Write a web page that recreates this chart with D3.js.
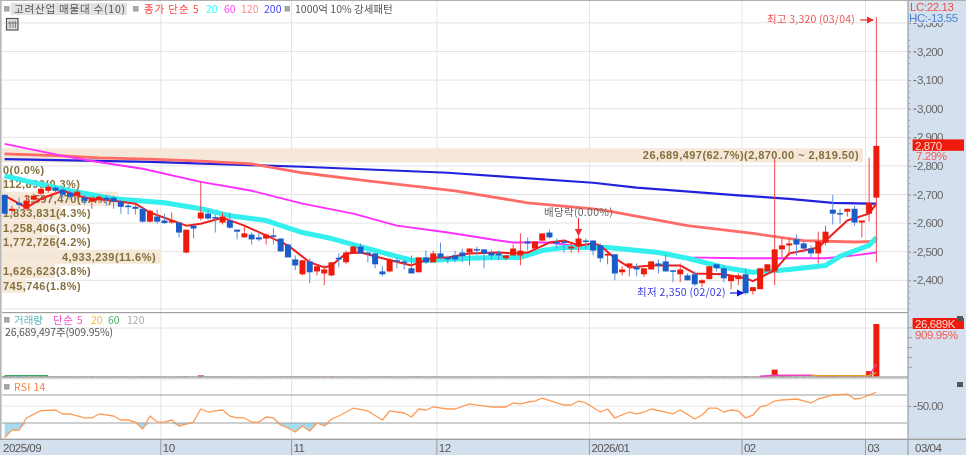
<!DOCTYPE html>
<html>
<head>
<meta charset="utf-8">
<script src="https://cdn.jsdelivr.net/npm/d3@7"></script>
<style>
  html, body { margin: 0; padding: 0; background: #fff; overflow: hidden; }
  svg { display: block; filter: blur(0.3px); }
  text { font-family: "Liberation Sans", sans-serif; }
  .ko { font-family: "Noto Sans CJK KR", sans-serif; }
</style>
</head>
<body>
<svg id="chart" width="966" height="455"></svg>
<script>
// daily candles, 2025/09/01 - 2026/03/04
const opens = [2699,2643,2671,2650,2682,2703,2713,2724,2717,2706,2696,2689,2675,2682,2689,2689,2675,2661,2657,2650,2605,2623,2609,2602,2602,2497,2591,2616,2633,2621,2602,2609,2577,2550,2560,2550,2546,2557,2546,2525,2473,2421,2466,2431,2424,2417,2479,2463,2497,2518,2497,2494,2431,2431,2470,2466,2442,2428,2480,2463,2494,2480,2487,2497,2497,2509,2508,2497,2494,2477,2487,2487,2536,2511,2539,2567,2534,2536,2511,2518,2539,2539,2522,2487,2491,2428,2449,2445,2421,2438,2459,2466,2435,2421,2417,2421,2390,2404,2456,2442,2397,2404,2421,2362,2369,2431,2431,2508,2522,2543,2529,2511,2494,2532,2647,2635,2640,2650,2602,2633,2689];
const highs = [2699,2661,2689,2696,2703,2724,2734,2730,2724,2713,2717,2699,2692,2699,2699,2696,2682,2671,2664,2654,2647,2647,2633,2637,2602,2577,2591,2744,2647,2630,2637,2637,2577,2588,2567,2567,2564,2581,2546,2525,2487,2470,2477,2449,2452,2463,2494,2504,2522,2529,2501,2494,2449,2477,2480,2473,2487,2480,2504,2504,2532,2487,2504,2511,2511,2518,2508,2508,2504,2487,2525,2564,2550,2536,2564,2577,2546,2539,2529,2557,2546,2539,2529,2495,2491,2449,2459,2459,2442,2466,2473,2491,2435,2459,2424,2431,2404,2449,2456,2452,2417,2424,2442,2376,2442,2456,2824,2546,2546,2560,2539,2522,2570,2591,2699,2650,2650,2661,2609,2828,3320];
const lows = [2630,2633,2650,2647,2675,2696,2706,2699,2689,2682,2685,2664,2650,2671,2661,2650,2633,2630,2630,2602,2602,2598,2598,2598,2550,2494,2546,2609,2612,2567,2595,2581,2543,2550,2525,2536,2525,2525,2501,2480,2435,2417,2390,2417,2383,2414,2445,2456,2494,2494,2463,2442,2414,2428,2442,2438,2424,2428,2456,2463,2473,2459,2463,2463,2452,2487,2442,2473,2470,2470,2487,2452,2504,2504,2536,2546,2511,2497,2497,2497,2511,2487,2463,2456,2400,2417,2414,2414,2411,2438,2424,2431,2393,2393,2400,2379,2376,2404,2431,2393,2369,2383,2350,2350,2369,2431,2383,2480,2484,2487,2497,2480,2459,2522,2595,2598,2623,2591,2550,2605,2463];
const closes = [2633,2650,2664,2678,2696,2720,2727,2713,2699,2692,2710,2678,2685,2692,2682,2675,2657,2657,2650,2605,2643,2605,2600,2609,2567,2577,2581,2637,2616,2616,2623,2584,2570,2564,2543,2543,2560,2553,2501,2480,2452,2470,2428,2449,2438,2463,2473,2497,2518,2494,2494,2456,2421,2473,2466,2463,2424,2480,2463,2494,2480,2473,2473,2484,2511,2504,2494,2487,2487,2487,2511,2504,2529,2536,2564,2550,2529,2532,2518,2546,2536,2504,2477,2492,2424,2438,2459,2438,2442,2466,2452,2431,2430,2438,2400,2386,2400,2449,2442,2407,2417,2417,2355,2376,2442,2456,2508,2522,2529,2525,2511,2494,2536,2570,2633,2630,2650,2602,2609,2671,2870];

// moving averages, read at the turning points of each line
const ma5Idx = [0,3,5,8,11,15,18,20,25,27,30,33,36,39,42,44,45,47,49,52,56,59,61,64,68,70,72,75,77,79,81,82,84,86,89,93,95,99,102,103,106,108,112,116,119,120];
const ma5 = [2696,2654,2685,2713,2689,2678,2668,2637,2591,2598,2619,2591,2557,2522,2463,2445,2452,2494,2497,2477,2452,2480,2480,2494,2497,2494,2497,2532,2539,2522,2529,2522,2477,2445,2452,2452,2424,2421,2407,2397,2435,2494,2515,2609,2633,2668];
const ma20Idx = [0,4,9,15,22,27,31,36,41,45,50,56,59,64,68,71,74,77,81,83,90,94,99,103,108,113,115,119,120];
const ma20 = [2765,2741,2713,2685,2671,2650,2626,2609,2567,2546,2511,2470,2470,2477,2480,2480,2504,2515,2515,2515,2497,2477,2445,2428,2438,2452,2484,2522,2550];
const ma60Idx = [0,8,12,19,27,34,41,48,54,61,68,70,75,80,83,90,94,101,108,113,117,120];
const ma60 = [2877,2835,2817,2790,2744,2713,2668,2633,2591,2567,2539,2532,2532,2515,2515,2494,2480,2477,2477,2477,2487,2497];
const ma120Idx = [0,8,13,20,27,34,41,50,62,72,81,83,94,103,110,117,120];
const ma120 = [2842,2835,2828,2824,2817,2807,2776,2748,2713,2671,2650,2643,2591,2564,2539,2534,2536];
const ma200Idx = [0,20,41,61,81,87,101,108,114,119,120];
const ma200 = [2824,2814,2797,2776,2741,2724,2697,2685,2671,2668,2668];

// volume in thousand shares
const volumes = [260,150,140,130,140,150,180,160,140,130,120,130,140,120,110,120,130,110,100,160,170,130,110,120,150,200,130,620,180,120,150,140,110,120,130,100,110,100,180,190,160,190,170,130,140,170,110,130,120,110,100,140,110,150,90,90,130,150,100,120,110,90,90,100,100,80,90,90,80,80,100,120,90,100,110,90,80,80,80,110,80,110,130,90,160,90,80,80,90,110,80,110,90,90,100,120,90,140,90,120,100,90,190,120,200,180,3525,300,220,180,140,130,230,260,420,180,160,280,150,2770,26689];
const volMa5Idx = [104,106,111,112,119,120];
const volMa5 = [150,700,700,480,480,6300];
const volMa20Idx = [111,119,120];
const volMa20 = [480,480,2000];
const volMa60Idx = [0,6];
const volMa60 = [480,480];

const rsiIdx = [0,1,2,3,5,7,8,9,11,12,13,15,16,17,18,19,20,21,22,23,24,26,27,28,29,30,31,32,33,34,35,36,37,38,39,40,41,42,43,44,45,46,48,50,52,53,55,56,57,58,59,61,62,64,65,67,69,70,71,72,73,74,76,77,78,79,80,82,83,84,86,87,88,89,91,92,93,95,96,97,98,99,100,101,102,103,104,105,106,107,109,111,112,114,116,117,118,120];
const rsi = [5,15.7,15.7,32.9,43.3,44.3,38.6,38.6,32.9,32.9,38.6,35.7,30,30,27.1,17.1,35.7,27.1,27.1,30,21.4,27.1,45.7,41.4,42.9,44.3,35.7,32.9,32.9,27.1,27.1,34.3,32.9,22.9,18.6,12.9,21.4,14.3,25.7,21.4,31.4,35.7,47.1,42.9,30,42.9,40,34.3,45.7,44.3,48.6,45.7,45.7,52.9,51.4,48.6,48.6,54.3,52.9,55.7,57.1,61.4,54.3,51.4,51.4,57.1,54.3,41.4,45.7,32.9,41.4,38.6,41.4,45.7,41.4,38.6,44.3,31.4,37.1,47.1,47.1,41.4,44.3,42.9,32.9,37.1,48.6,51.4,57.1,58.6,60,54.3,60,65.7,67.1,60,61.4,70];

const rsiUpper = 65.7;
const rsiLower = 25.7;

const priceTicks = [3300,3200,3100,3000,2900,2800,2700,2600,2500,2400,2300];
const priceMinor = d3.range(2300, 3340, 20);
const volumeMinor = [5000,10000,15000,20000,25000];

const monthIdx = [0,22,40,60,81,102,119];
const monthLabels = ["2025/09","10","11","12","2026/01","02","03"];

const profileVols = [26689497,0,112890,3597470,1833831,1258406,1772726,4933239,1626623,745746];
const profilePct = ["62.7","0.0","0.3","8.4","4.3","3.0","4.2","11.6","3.8","1.8"];

const legendTop = [
  { t: "종가 단순 5", x: 144, c: "#f44", ls: 0.9 },
  { t: "20", x: 206, c: "#3ff", ls: 0 },
  { t: "60", x: 224, c: "#f4f", ls: 0 },
  { t: "120", x: 241, c: "#ff8a8a", ls: 0 },
  { t: "200", x: 264, c: "#44f", ls: 0 },
  { t: "1000억 10% 강세패턴", x: 295, c: "#555", ls: 0 },
];
const legendVol = [
  { t: "거래량", x: 14, c: "#5ab8bd", ls: 0 },
  { t: "단순 5", x: 53, c: "#f050c8", ls: 0.7 },
  { t: "20", x: 91, c: "#ffb63c", ls: 0 },
  { t: "60", x: 108, c: "#4cb070", ls: 0 },
  { t: "120", x: 127, c: "#aaa", ls: 0 },
];

const RED = "#ee1b0c";
const BLUE = "#1a5cc8";
const GRID = "#e4e4e4";
const PANEL = "#d5e0ee";
const FRAME = "#a0a0a0";
const plotRight = 908;

const svg = d3.select("#chart");

// scales
const x = d3.scaleBand().domain(d3.range(opens.length)).range([1, 880]).padding(0);
const cx = (i) => x(i) + x.bandwidth() / 2;
const yPrice = d3.scaleLinear().domain([2400, 3200]).range([280.3, 51.5]);
const yVol = d3.scaleLinear().domain([0, 26689]).range([376.6, 324]);
const yRsi = d3.scaleLinear().domain([50, 70]).range([406, 392]);
const xProfile = d3.scaleLinear().domain([0, 26689497]).range([2, 863]);
const yProfile = d3.scaleBand().domain(d3.range(profileVols.length)).range([148, 293]).padding(0.02);

// right panel and bottom strip
svg.append("rect").attr("x", plotRight).attr("y", 0).attr("width", 58).attr("height", 455).attr("fill", PANEL);
svg.append("rect").attr("x", 0).attr("y", 440).attr("width", 966).attr("height", 15).attr("fill", PANEL);

// grid
svg.append("g").selectAll("line").data(priceTicks).enter().append("line")
  .attr("x1", 2).attr("x2", plotRight)
  .attr("y1", (d) => yPrice(d)).attr("y2", (d) => yPrice(d))
  .attr("stroke", GRID);
svg.append("g").selectAll("line").data(monthIdx.slice(1)).enter().append("line")
  .attr("x1", (d) => x(d)).attr("x2", (d) => x(d))
  .attr("y1", 0).attr("y2", 439)
  .attr("stroke", GRID);

// volume profile rows
const rows = svg.append("g");
rows.selectAll("rect").data(profileVols).enter().append("rect")
  .attr("x", xProfile(0))
  .attr("y", (d, i) => yProfile(i))
  .attr("width", (d) => xProfile(d) - xProfile(0))
  .attr("height", yProfile.bandwidth())
  .attr("fill", "#f6e8d8");
rows.selectAll("text").data(profileVols).enter().append("text")
  .attr("x", (d, i) => {
    if (i == 0) return 859;
    if (i == 3) return 112;
    if (i == 7) return 156;
    return 3;
  })
  .attr("text-anchor", (d, i) => (i == 0 || i == 3 || i == 7 ? "end" : "start"))
  .attr("y", (d, i) => yProfile(i) + yProfile.bandwidth() / 2 + 4)
  .attr("fill", "#85703f")
  .attr("font-size", 11)
  .attr("font-weight", "bold")
  .attr("letter-spacing", 0.45)
  .text((d, i) => {
    let s = `${d3.format(",")(d)}(${profilePct[i]}%)`;
    if (i == 0) s += "(2,870.00 ~ 2,819.50)";
    return s;
  });

// moving averages
function drawLine(idx, vals, scale, color, width) {
  const line = d3.line().x((d) => cx(d)).y((d, i) => scale(vals[i]));
  svg.append("path").attr("d", line(idx)).attr("fill", "none")
    .attr("stroke", color).attr("stroke-width", width).attr("stroke-linejoin", "round");
}
drawLine(ma200Idx, ma200, yPrice, "#2222dd", 2.2);
drawLine(ma120Idx, ma120, yPrice, "#ff6b66", 2.8);
drawLine(ma60Idx, ma60, yPrice, "#ff2eff", 1.9);
drawLine(ma20Idx, ma20, yPrice, "#33f0ee", 5);
drawLine(ma5Idx, ma5, yPrice, "#ee1f1f", 2);

// candles
const candles = svg.append("g");
opens.forEach((o, i) => {
  const up = closes[i] >= o;
  candles.append("line")
    .attr("x1", cx(i)).attr("x2", cx(i))
    .attr("y1", yPrice(highs[i])).attr("y2", yPrice(lows[i]))
    .attr("stroke", up ? "#f04848" : "#5a90e0");
  const top = yPrice(Math.max(o, closes[i]));
  const bottom = yPrice(Math.min(o, closes[i]));
  candles.append("rect")
    .attr("x", cx(i) - 3).attr("y", top)
    .attr("width", 6).attr("height", Math.max(bottom - top, 1.5))
    .attr("fill", up ? RED : BLUE);
});

// notes on the price pane
svg.append("defs").selectAll("marker").data([["arrowR", "#f03030"], ["arrowB", "#1414e0"]]).enter()
  .append("marker")
  .attr("id", (d) => d[0])
  .attr("markerWidth", 6).attr("markerHeight", 6).attr("refX", 5).attr("refY", 3).attr("orient", "auto")
  .append("path").attr("d", "M0,0L6,3L0,6Z").attr("fill", (d) => d[1]);

function note(str, px, py, color, ls) {
  svg.append("text").attr("class", "ko").attr("x", px).attr("y", py)
    .attr("font-size", 10.5).attr("fill", color).attr("letter-spacing", ls).text(str);
}
note("최고 3,320 (03/04)", 767, 23, "#ee5555", 0.2);
svg.append("line").attr("x1", 860).attr("x2", 873).attr("y1", 20).attr("y2", 20)
  .attr("stroke", "#f03030").attr("stroke-width", 1.2).attr("marker-end", "url(#arrowR)");
note("최저 2,350 (02/02)", 637, 296, "#3a3ae0", 0.25);
svg.append("line").attr("x1", 730).attr("x2", 743).attr("y1", 293).attr("y2", 293)
  .attr("stroke", "#1414e0").attr("stroke-width", 1.2).attr("marker-end", "url(#arrowB)");
note("배당락(0.00%)", 544, 216, "#666", 0.3);
svg.append("line").attr("x1", 578.5).attr("x2", 578.5).attr("y1", 218).attr("y2", 235)
  .attr("stroke", "#f03030").attr("stroke-width", 1.2).attr("marker-end", "url(#arrowR)");

// volume pane
svg.append("line").attr("x1", 2).attr("x2", plotRight).attr("y1", 328).attr("y2", 328).attr("stroke", GRID);
svg.append("rect").attr("x", 2).attr("y", 312).attr("width", plotRight - 2).attr("height", 1.2).attr("fill", FRAME);
svg.append("g").selectAll("rect").data(volumes).enter().append("rect")
  .attr("x", (d, i) => cx(i) - 3)
  .attr("y", (d) => yVol(d))
  .attr("width", 6)
  .attr("height", (d) => yVol(0) - yVol(d))
  .attr("fill", (d, i) => (closes[i] >= opens[i] ? (d > 1000 ? RED : "#c22") : BLUE));
svg.append("rect").attr("x", 2).attr("y", 376.4).attr("width", plotRight - 2).attr("height", 1.4).attr("fill", "#9a9a9a");
svg.append("rect").attr("x", 2).attr("y", 377.8).attr("width", plotRight - 2).attr("height", 1.6).attr("fill", "#dcdcdc");
drawLine(volMa60Idx, volMa60, yVol, "#3aa860", 1.2);
drawLine(volMa5Idx, volMa5, yVol, "#f040b8", 1.4);
drawLine(volMa20Idx, volMa20, yVol, "#e8a020", 1.4);

// rsi pane
svg.append("line").attr("x1", 2).attr("x2", plotRight).attr("y1", yRsi(50)).attr("y2", yRsi(50)).attr("stroke", GRID);
const rsiFill = d3.area()
  .x((d) => cx(d))
  .y0(yRsi(rsiLower))
  .y1((d, i) => yRsi(Math.min(rsi[i], rsiLower)));
svg.append("path").attr("d", rsiFill(rsiIdx)).attr("fill", "#a6dcf0");
[rsiUpper, rsiLower].forEach((v) => {
  svg.append("line").attr("x1", 2).attr("x2", 907).attr("y1", yRsi(v)).attr("y2", yRsi(v))
    .attr("stroke", "#a0a0a0").attr("stroke-width", 1.1);
});
drawLine(rsiIdx, rsi, yRsi, "#ff9a55", 1.3);

// frames
svg.append("rect").attr("x", 0).attr("y", 0).attr("width", 966).attr("height", 1).attr("fill", "#b0b0b0");
svg.append("rect").attr("x", 0).attr("y", 0).attr("width", 1.6).attr("height", 440).attr("fill", "#b8b8b8");
svg.append("rect").attr("x", 0).attr("y", 438.6).attr("width", 966).attr("height", 1.4).attr("fill", FRAME);
svg.append("rect").attr("x", plotRight - 0.6).attr("y", 0).attr("width", 1.2).attr("height", 455).attr("fill", FRAME);

// price axis: labels with a short dash in front, small marks on the pane edge
function styleLabels(axis) {
  axis.select(".domain").remove();
  axis.selectAll("line").attr("stroke", "#999");
  axis.selectAll("text").attr("fill", "#666").attr("font-size", 11.5).attr("letter-spacing", -0.6);
}
const axisPrice = svg.append("g").attr("transform", `translate(${plotRight},0)`)
  .call(d3.axisRight(yPrice).tickValues(priceTicks.filter((d) => d != 2300)).tickSize(3).tickPadding(6).tickFormat(d3.format(",")));
styleLabels(axisPrice);
const axisDash = svg.append("g").attr("transform", `translate(${plotRight + 5.5},0)`)
  .call(d3.axisRight(yPrice).tickValues(priceTicks.filter((d) => d != 2300)).tickSize(3).tickFormat(""));
axisDash.select(".domain").remove();
axisDash.selectAll("line").attr("stroke", "#666");
const axisMinor = svg.append("g").attr("transform", `translate(${plotRight},0)`)
  .call(d3.axisRight(yPrice).tickValues(priceMinor).tickSize(2).tickFormat(""));
axisMinor.select(".domain").remove();
axisMinor.selectAll("line").attr("stroke", "#aaa");

// volume and rsi axes
const axisVol = svg.append("g").attr("transform", `translate(${plotRight},0)`)
  .call(d3.axisRight(yVol).tickValues(volumeMinor).tickSize(4).tickFormat(""));
axisVol.select(".domain").remove();
axisVol.selectAll("line").attr("stroke", "#999");
const axisRsi = svg.append("g").attr("transform", `translate(${plotRight},0)`)
  .call(d3.axisRight(yRsi).tickValues([50]).tickSize(3).tickPadding(6).tickFormat(d3.format(".2f")));
styleLabels(axisRsi);
const axisRsiDash = svg.append("g").attr("transform", `translate(${plotRight + 5.5},0)`)
  .call(d3.axisRight(yRsi).tickValues([50]).tickSize(3).tickFormat(""));
axisRsiDash.select(".domain").remove();
axisRsiDash.selectAll("line").attr("stroke", "#666");

// date strip
svg.append("g").selectAll("line").data(monthIdx.slice(1)).enter().append("line")
  .attr("x1", (d) => x(d)).attr("x2", (d) => x(d)).attr("y1", 440).attr("y2", 455)
  .attr("stroke", "#999");
svg.append("g").selectAll("text").data(monthLabels).enter().append("text")
  .attr("x", (d, i) => (i == 0 ? 3 : x(monthIdx[i]) + 2))
  .attr("y", 451.5)
  .attr("font-size", 11.5)
  .attr("letter-spacing", -0.5)
  .attr("fill", "#555")
  .text((d) => d);
svg.append("text").attr("x", 915).attr("y", 451.5).attr("font-size", 11.5).attr("letter-spacing", -0.5).attr("fill", "#555").text("03/04");

// price tags on the right
function sideText(str, px, py, color) {
  svg.append("text").attr("x", px).attr("y", py).attr("font-size", 11.5).attr("letter-spacing", -0.4).attr("fill", color).text(str);
}
svg.append("rect").attr("x", 909).attr("y", 13).attr("width", 50).attr("height", 10).attr("fill", PANEL);
sideText("LC:22.13", 910, 11, "#e8504a");
sideText("HC:-13.55", 909, 22, "#4a80d0");
svg.append("rect").attr("x", 912.6).attr("y", 139.4).attr("width", 51.4).attr("height", 11.4).attr("fill", RED);
sideText("2,870", 915, 149.5, "#ffd8d0");
sideText("7.29%", 916, 159.5, "#f05a50");
svg.append("rect").attr("x", 912.6).attr("y", 318).attr("width", 51.4).attr("height", 11).attr("fill", RED);
sideText("26,689K", 915, 328, "#ffd8d0");
sideText("909.95%", 915, 339, "#f05a50");

// legends
function squareIcon(px, py) {
  svg.append("rect").attr("x", px).attr("y", py).attr("width", 4.6).attr("height", 4.6)
    .attr("fill", "#aaa").attr("stroke", "#888").attr("stroke-width", 0.6);
}
function legendText(d, py) {
  svg.append("text").attr("class", "ko").attr("x", d.x).attr("y", py)
    .attr("font-size", 10.5).attr("fill", d.c).attr("letter-spacing", d.ls).text(d.t);
}
squareIcon(4.5, 6.5);
svg.append("rect").attr("x", 11).attr("y", 3).attr("width", 116).attr("height", 12).attr("fill", "#e2e2e2");
legendText({ t: "고려산업 매물대 수(10)", x: 14, c: "#555", ls: 0.8 }, 13);
squareIcon(133.5, 6.5);
squareIcon(285, 6.5);
legendTop.forEach((d) => legendText(d, 13));
squareIcon(4.5, 317.5);
legendVol.forEach((d) => legendText(d, 324));
note("26,689,497주(909.95%)", 5, 336, "#555", -0.15);
squareIcon(4.5, 384.5);
legendText({ t: "RSI 14", x: 14, c: "#ff8040", ls: 0.3 }, 391);

// table button
svg.append("rect").attr("x", 6.5).attr("y", 18.5).attr("width", 11.5).attr("height", 11.5)
  .attr("fill", "#ddd").attr("stroke", "#555").attr("stroke-width", 1.2);
[10, 13, 15.5].forEach((v) => {
  svg.append("line").attr("x1", v).attr("x2", v).attr("y1", 21).attr("y2", 28).attr("stroke", "#666").attr("stroke-width", 0.8);
});
svg.append("line").attr("x1", 8).attr("x2", 17).attr("y1", 23).attr("y2", 23).attr("stroke", "#666").attr("stroke-width", 0.8);

// pane buttons
[[957, 316], [957, 382]].forEach((p) => {
  svg.append("rect").attr("x", p[0]).attr("y", p[1]).attr("width", 6).attr("height", 5).attr("fill", "#555");
});
</script>
</body>
</html>
